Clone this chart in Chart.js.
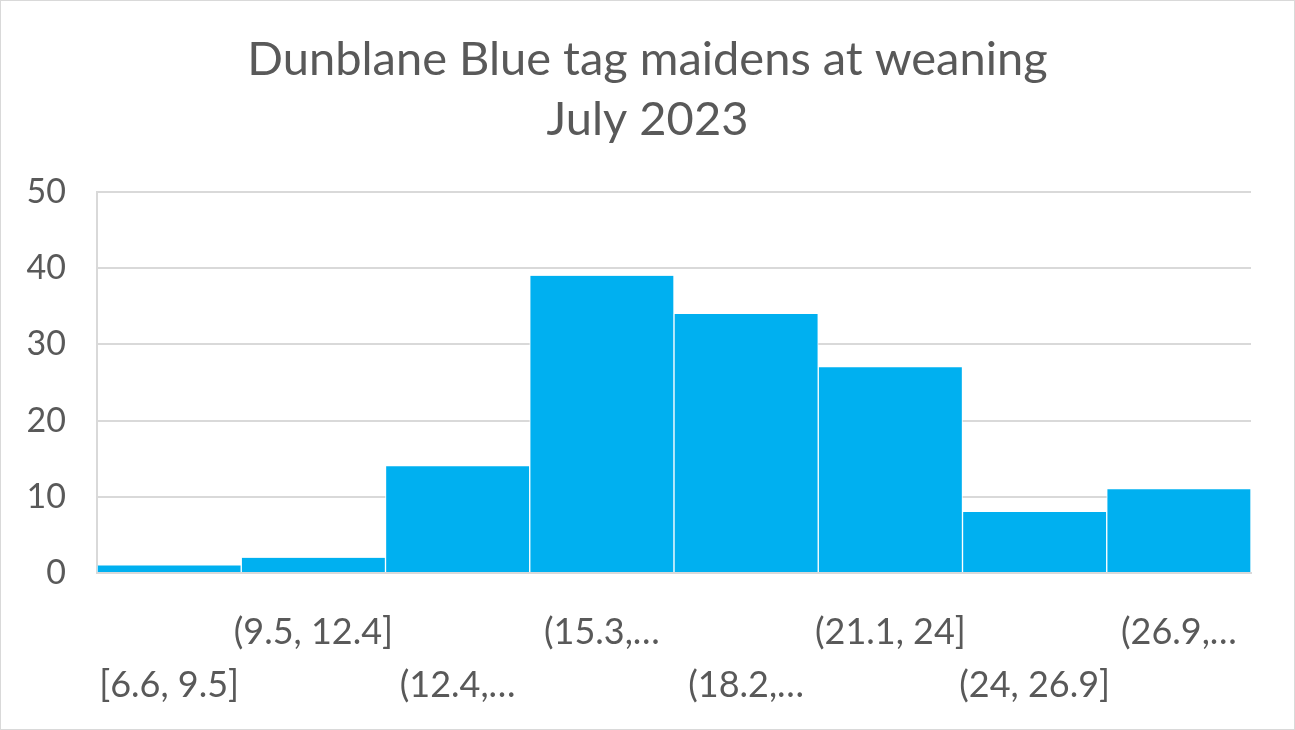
<!DOCTYPE html>
<html>
<head>
<meta charset="utf-8">
<script src="https://cdn.jsdelivr.net/npm/chart.js@4"></script>
<style>
  html, body { margin: 0; padding: 0; background: #fff; }
  #wrap { width: 1295px; height: 730px; position: relative; }
  #marco { position: absolute; left: 0; top: 0; width: 1295px; height: 730px; box-sizing: border-box; border: 1px solid #d9d9d9; pointer-events: none; }
  canvas { display: block; }
</style>
</head>
<body>
<div id="wrap"><canvas id="grafico" width="1295" height="730"></canvas><div id="marco"></div></div>
<script>
// datos del histograma
const rangos = ['[6.6, 9.5]', '(9.5, 12.4]', '(12.4,…', '(15.3,…', '(18.2,…', '(21.1, 24]', '(24, 26.9]', '(26.9,…'];
const conteos = [1, 2, 14, 39, 34, 27, 8, 11];
const tituloLineas = ['Dunblane Blue tag maidens at weaning', 'July 2023'];
const yTicks = [0, 10, 20, 30, 40, 50];

// etiquetas alternadas en dos filas, como en Excel
const etiquetas = rangos.map((r, i) => i % 2 === 0 ? ['', r] : [r, '']);

const gris = '#595959';
const fuente = 'Lato, "Open Sans", sans-serif';

const ctx = document.getElementById('grafico').getContext('2d');
new Chart(ctx, {
    type: 'bar',
    data: {
        labels: etiquetas,
        datasets: [{
            label: 'Frecuencia',
            data: conteos,
            backgroundColor: '#00B0F0',
            borderColor: '#ffffff',
            borderWidth: { left: 1, right: 1, top: 0, bottom: 0 },
            borderSkipped: false,
            barPercentage: 1,
            categoryPercentage: 1
        }]
    },
    options: {
        responsive: false,
        animation: false,
        devicePixelRatio: 1,
        layout: { padding: 0 },
        plugins: {
            legend: { display: false },
            tooltip: { enabled: false },
            title: {
                display: true,
                text: tituloLineas,
                color: gris,
                font: { family: fuente, size: 47, weight: 'normal', lineHeight: 60 / 47 },
                padding: { top: 30, bottom: 42 }
            }
        },
        scales: {
            x: {
                grid: { display: false, drawTicks: false },
                border: { display: true, color: '#d9d9d9', width: 2 },
                ticks: {
                    color: gris,
                    font: { family: fuente, size: 36, lineHeight: 53 / 36 },
                    padding: 33,
                    maxRotation: 0,
                    autoSkip: false
                },
                afterFit: function (scale) { scale.height = 157; }
            },
            y: {
                min: 0,
                max: 50,
                afterBuildTicks: function (scale) { scale.ticks = yTicks.map(v => ({ value: v })); },
                grid: { color: '#d9d9d9', lineWidth: 2, drawTicks: false },
                border: { display: true, color: '#d9d9d9', width: 2 },
                ticks: {
                    color: gris,
                    font: { family: fuente, size: 34 },
                    padding: 31
                },
                afterFit: function (scale) { scale.width = 97; }
            },
            // eje vacio a la derecha solo para dejar el margen sin descentrar el titulo
            margen: {
                type: 'linear',
                position: 'right',
                grid: { display: false, drawTicks: false },
                border: { display: false },
                ticks: { display: false },
                afterFit: function (scale) { scale.width = 44; }
            }
        }
    }
});
</script>
</body>
</html>
